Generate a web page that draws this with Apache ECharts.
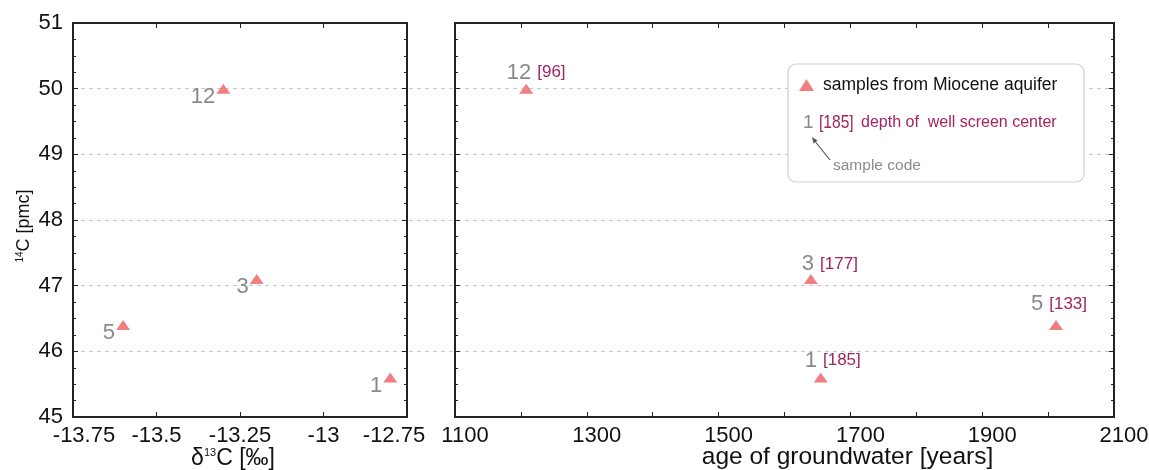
<!DOCTYPE html>
<html>
<head>
<meta charset="utf-8">
<script src="https://cdn.jsdelivr.net/npm/echarts@6/dist/echarts.min.js"></script>
<style>html,body{margin:0;padding:0;background:#fff}#c{width:1149px;height:470px}</style>
</head>
<body>
<div id="c"></div>
<script>
// ---- data ----
const codes = ['1', '3', '5', '12'];
const d13C = [-12.8, -13.2, -13.6, -13.3];
const c14 = [45.6, 47.1, 46.4, 50.0];
const age = [1655, 1640, 2012, 1208];
const depth = [185, 177, 133, 96];
const seriesName = 'samples from Miocene aquifer';

// ---- style ----
const FONT = "'Liberation Sans', Arial, sans-serif";
const NARROW = "'Liberation Sans Narrow', 'Liberation Sans', Arial, sans-serif";
const TRI = '#f07f84';
const GRAY = '#8a8a8a';
const MAG = '#a3245e';
const AX = '#222';
const rightLabelOffsets = [[12, -1], [19, 1], [3, -5], [10, 0]];

const chart = echarts.init(document.getElementById('c'));

function frameAxis(extra) {
  return Object.assign({
    axisLine: { show: true, lineStyle: { color: AX, width: 2 } },
    axisTick: { show: true, inside: true, length: 5, lineStyle: { color: AX, width: 1 } },
    axisLabel: { show: false },
    splitLine: { show: false }
  }, extra);
}
const plainNum = v => String(v);
const leftXLabel = (v, i) => {
  if (v === -13.75) return '{l|' + v + '}';
  if (v === -12.75) return '{r|' + v + '}';
  return String(v);
};

const option = {
  animation: false,
  backgroundColor: '#fff',
  textStyle: { fontFamily: FONT },
  grid: [
    { left: 73, right: 742, top: 23, bottom: 53, containLabel: false, outerBoundsMode: 'none' },
    { left: 455, right: 35, top: 23, bottom: 53, containLabel: false, outerBoundsMode: 'none' },
    { left: 73, right: 35, top: 23, bottom: 53, containLabel: false, outerBoundsMode: 'none' }
  ],
  xAxis: [
    frameAxis({
      gridIndex: 0, type: 'value', position: 'bottom', min: -13.75, max: -12.75, interval: 0.25,
      axisLabel: { show: true, fontSize: 22, color: '#111', margin: 8, fontFamily: FONT, formatter: leftXLabel,
        rich: {
          l: { fontSize: 22, color: '#111', fontFamily: FONT, padding: [0, 0, 0, 22] },
          r: { fontSize: 22, color: '#111', fontFamily: FONT, padding: [0, 26, 0, 0] }
        } },
      name: '\u03b4{s|13}C [\u2030]', nameLocation: 'middle', nameGap: 30, nameMoveOverlap: false,
      nameTextStyle: { fontSize: 23, color: '#111', fontFamily: FONT, padding: [0, 14, 0, 0],
        rich: { s: { fontSize: 11, verticalAlign: 'top', color: '#111', fontFamily: FONT } } }
    }),
    frameAxis({ gridIndex: 0, type: 'value', position: 'top', min: -13.75, max: -12.75, interval: 0.25 }),
    frameAxis({
      gridIndex: 1, type: 'value', position: 'bottom', min: 1100, max: 2100, interval: 200,
      minorTick: { show: true, splitNumber: 2, length: 5, lineStyle: { color: AX } },
      axisLabel: { show: true, fontSize: 22, color: '#111', margin: 8, fontFamily: FONT, formatter: plainNum,
        padding: [0, 0, 0, 20] },
      name: 'age of groundwater [years]', nameLocation: 'middle', nameGap: 28, nameMoveOverlap: false,
      nameTextStyle: { fontSize: 24.5, color: '#111', fontFamily: FONT, padding: [0, 0, 0, 126] }
    }),
    frameAxis({ gridIndex: 1, type: 'value', position: 'top', min: 1100, max: 2100, interval: 100 }),
    { gridIndex: 2, type: 'value', min: 0, max: 1, show: false }
  ],
  yAxis: [
    frameAxis({
      gridIndex: 0, type: 'value', position: 'left', min: 45, max: 51, interval: 1,
      minorTick: { show: true, splitNumber: 4, length: 3, lineStyle: { color: AX } },
      axisLabel: { show: true, fontSize: 22, color: '#111', margin: 10, fontFamily: FONT, formatter: plainNum },
      name: '{s|14}C [pmc]', nameLocation: 'middle', nameGap: 40, nameMoveOverlap: false,
      nameTextStyle: { fontSize: 18, color: '#111', fontFamily: FONT, padding: [0, 12, 0, 0],
        rich: { s: { fontSize: 10, verticalAlign: 'top', color: '#111', fontFamily: FONT } } }
    }),
    frameAxis({
      gridIndex: 0, type: 'value', position: 'right', min: 45, max: 51, interval: 1,
      minorTick: { show: true, splitNumber: 4, length: 3, lineStyle: { color: AX } }
    }),
    frameAxis({
      gridIndex: 1, type: 'value', position: 'left', min: 45, max: 51, interval: 1,
      minorTick: { show: true, splitNumber: 4, length: 3, lineStyle: { color: AX } }
    }),
    frameAxis({
      gridIndex: 1, type: 'value', position: 'right', min: 45, max: 51, interval: 1,
      minorTick: { show: true, splitNumber: 4, length: 3, lineStyle: { color: AX } }
    }),
    {
      gridIndex: 2, type: 'value', min: 45, max: 51, interval: 1,
      axisLine: { show: false }, axisTick: { show: false }, axisLabel: { show: false },
      splitLine: { show: true, lineStyle: { type: [4, 4], width: 1,
        color: ['rgba(0,0,0,0)', '#c8c8c8', '#c8c8c8', '#c8c8c8', '#c8c8c8', '#c8c8c8', 'rgba(0,0,0,0)'] } }
    }
  ],
  legend: {
    show: true, left: 799, top: 76, padding: 0, z: 200,
    data: [{ name: seriesName, icon: 'triangle' }],
    itemWidth: 15, itemHeight: 12, itemGap: 10,
    textStyle: { fontSize: 17.5, color: '#111', fontFamily: FONT, padding: [0, 0, 0, 4] }
  },
  graphic: [
    { type: 'rect', z: 100, shape: { x: 788, y: 64, width: 296, height: 118, r: 8 },
      style: { fill: '#fff', stroke: '#cfcfcf', lineWidth: 1.2 } },
    { type: 'text', z: 110, x: 803, y: 123,
      style: { text: '1', fontSize: 19, fill: GRAY, fontFamily: FONT, verticalAlign: 'middle' } },
    { type: 'text', z: 110, x: 819, y: 123, scaleX: 0.82,
      style: { text: '[185]', fontSize: 19, fill: MAG, fontFamily: NARROW, verticalAlign: 'middle' } },
    { type: 'text', z: 110, x: 861, y: 123,
      style: { text: 'depth of  well screen center', fontSize: 16, fill: MAG, fontFamily: FONT, verticalAlign: 'middle' } },
    { type: 'line', z: 110, shape: { x1: 830, y1: 160, x2: 814, y2: 140 },
      style: { stroke: '#555', lineWidth: 1.2 } },
    { type: 'polygon', z: 110, shape: { points: [[812, 137], [817.5, 140.5], [813.5, 143.5]] },
      style: { fill: '#555' } },
    { type: 'text', z: 110, x: 833, y: 166,
      style: { text: 'sample code', fontSize: 15.5, fill: GRAY, fontFamily: FONT, verticalAlign: 'middle' } }
  ],
  series: [
    {
      name: seriesName, type: 'scatter', xAxisIndex: 0, yAxisIndex: 0,
      symbol: 'triangle', symbolSize: [14, 10],
      itemStyle: { color: TRI, opacity: 1 },
      data: d13C.map((x, i) => [x, c14[i]]),
      label: {
        show: true, position: 'left', distance: 1, offset: [0, 8],
        formatter: p => codes[p.dataIndex],
        fontSize: 22, color: GRAY, fontFamily: FONT
      },
      z: 5
    },
    {
      name: seriesName, type: 'scatter', xAxisIndex: 2, yAxisIndex: 2,
      symbol: 'triangle', symbolSize: [14, 10],
      itemStyle: { color: TRI, opacity: 1 },
      data: age.map((a, i) => ({ value: [a, c14[i]], label: { offset: rightLabelOffsets[i] } })),
      label: {
        show: true, position: 'top', distance: 0,
        formatter: p => '{a|' + codes[p.dataIndex] + '}{b|[' + depth[p.dataIndex] + ']}',
        rich: {
          a: { fontSize: 22, color: GRAY, fontFamily: FONT },
          b: { fontSize: 17, color: MAG, fontFamily: NARROW, padding: [0, 0, 0, 6] }
        }
      },
      z: 5
    }
  ]
};
chart.setOption(option);
</script>
</body>
</html>
